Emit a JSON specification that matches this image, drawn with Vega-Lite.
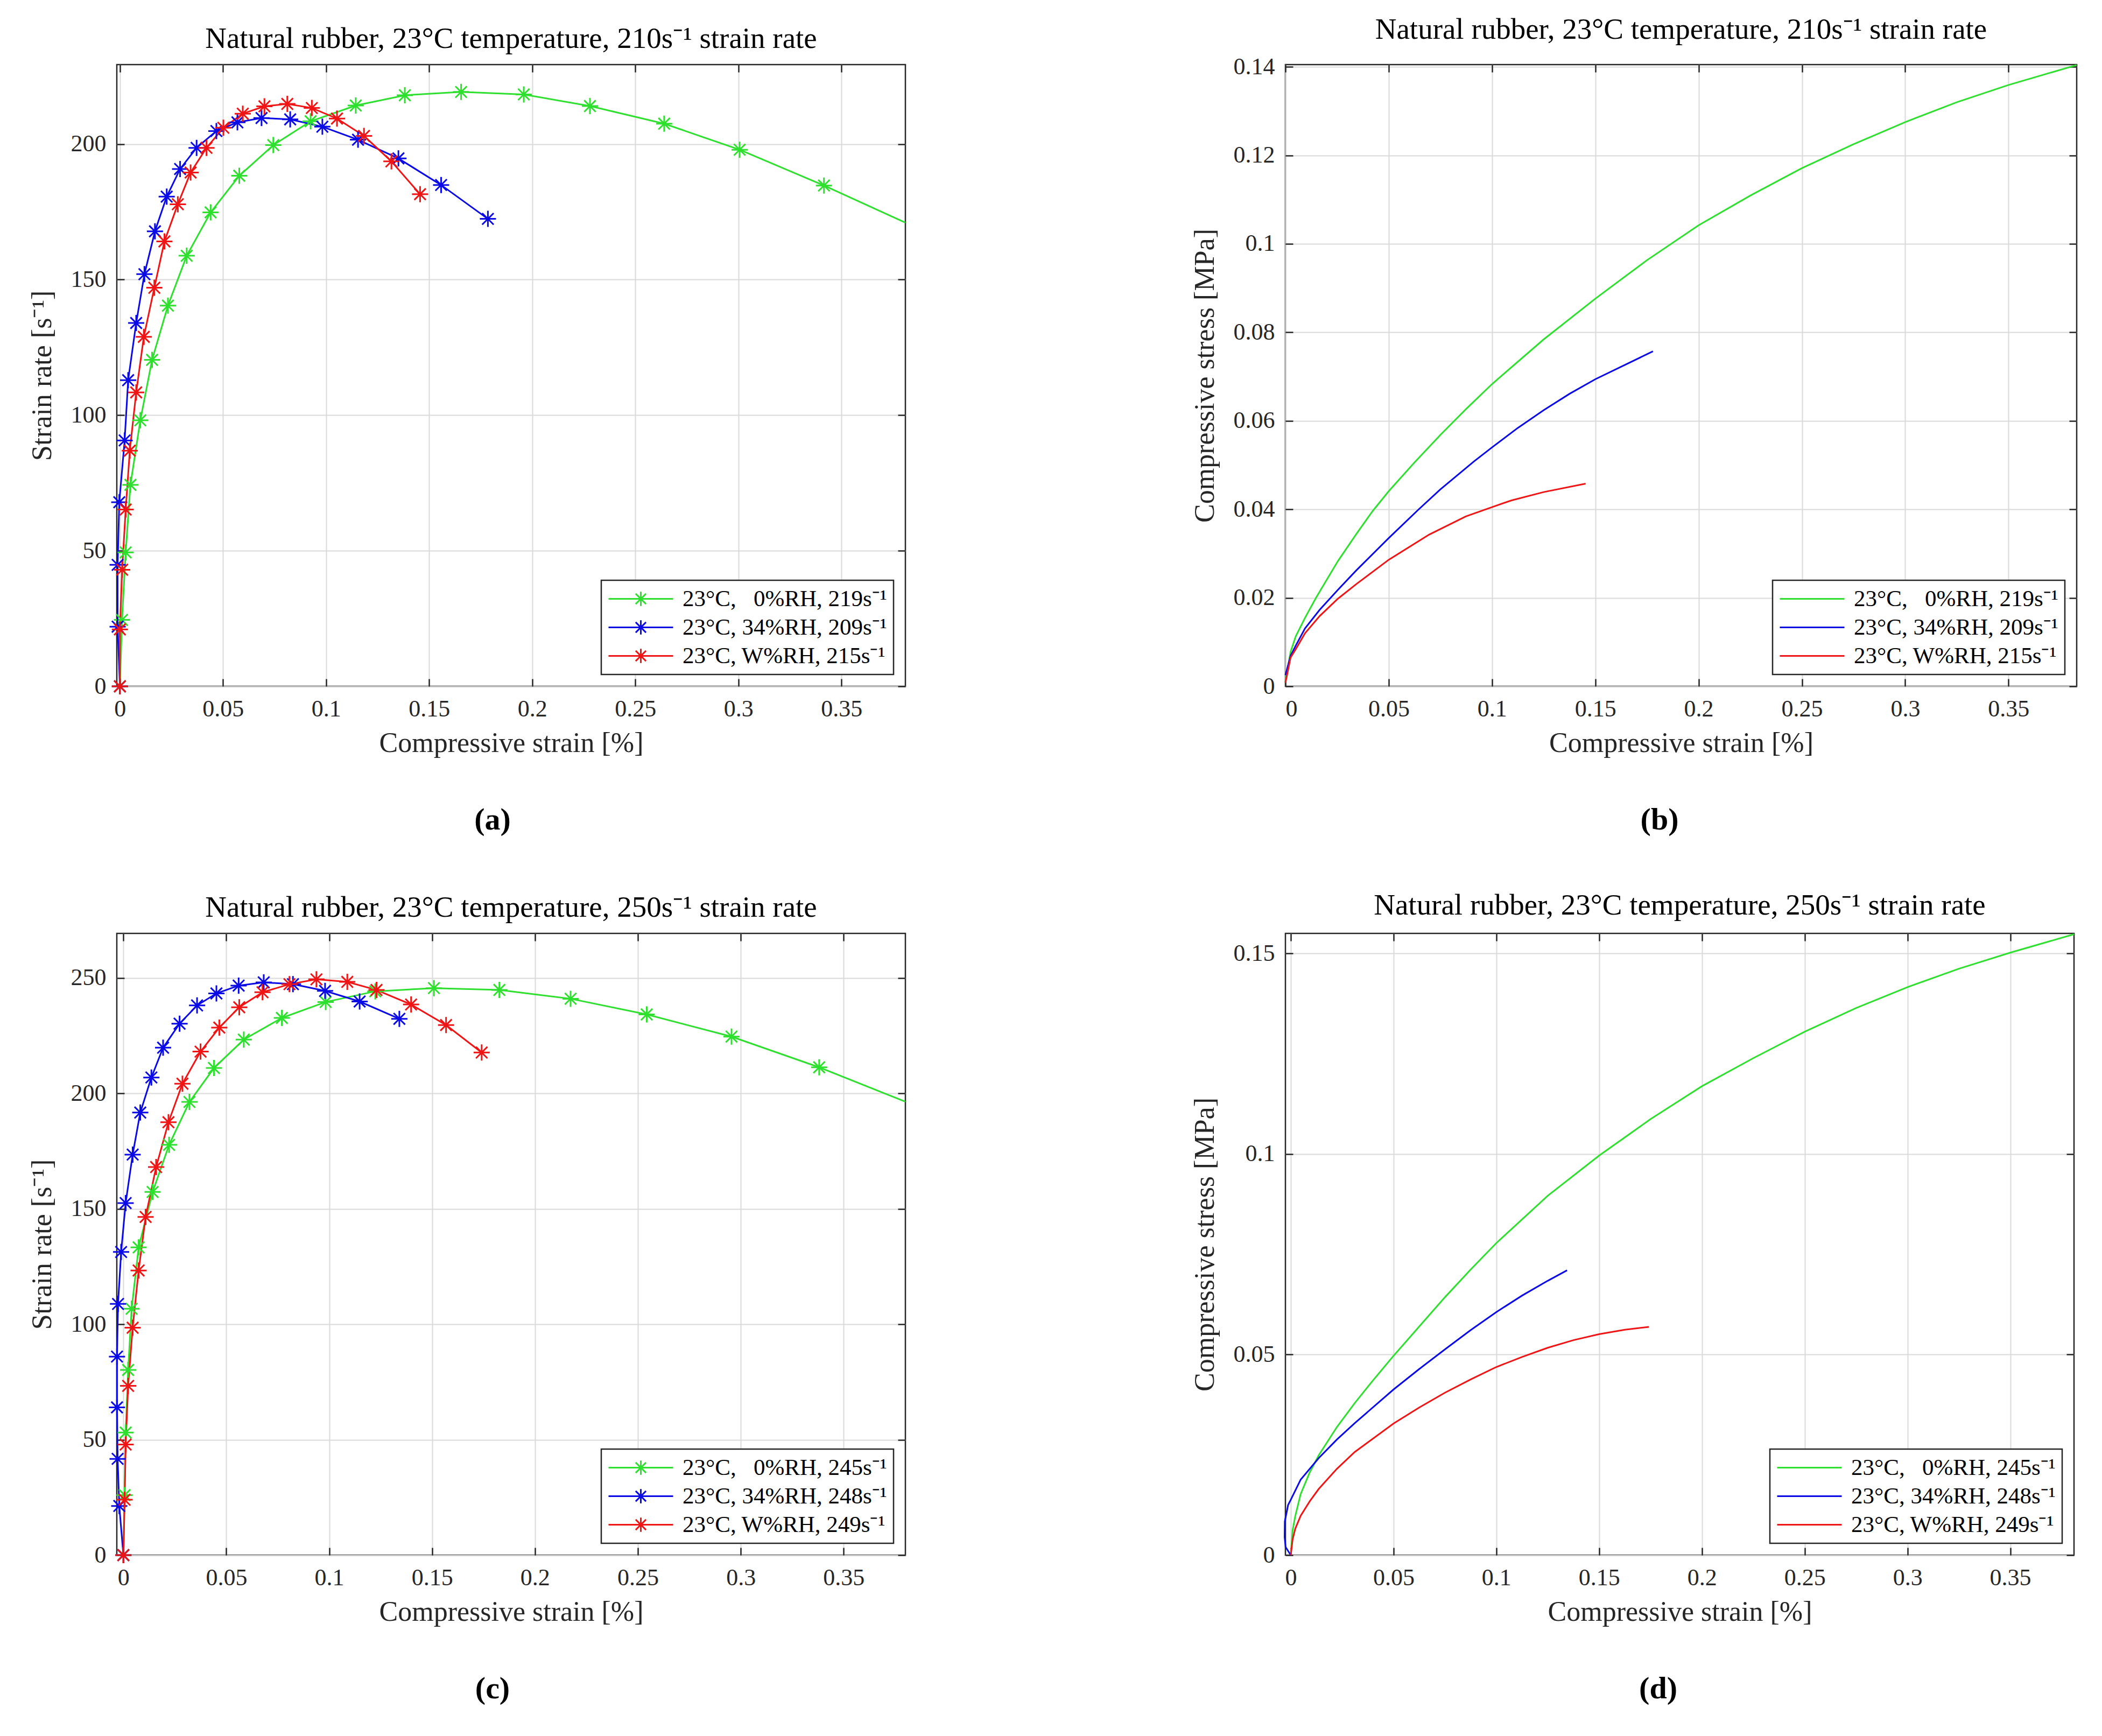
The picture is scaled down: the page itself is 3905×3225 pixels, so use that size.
{
  "$schema": "https://vega.github.io/schema/vega-lite/v6.json",
  "background": "white",
  "padding": {"left": 50, "top": 26, "right": 30, "bottom": 30},
  "datasets": {
    "a": [
      {"x": 0, "y": 0, "s": "23°C, \u20070%RH, 219s\u207b\u00b9"},
      {"x": 0.001, "y": 24.5, "s": "23°C, \u20070%RH, 219s\u207b\u00b9"},
      {"x": 0.0028, "y": 49.4, "s": "23°C, \u20070%RH, 219s\u207b\u00b9"},
      {"x": 0.0051, "y": 74.3, "s": "23°C, \u20070%RH, 219s\u207b\u00b9"},
      {"x": 0.0099, "y": 98.1, "s": "23°C, \u20070%RH, 219s\u207b\u00b9"},
      {"x": 0.0156, "y": 120.4, "s": "23°C, \u20070%RH, 219s\u207b\u00b9"},
      {"x": 0.0233, "y": 140.4, "s": "23°C, \u20070%RH, 219s\u207b\u00b9"},
      {"x": 0.0324, "y": 158.8, "s": "23°C, \u20070%RH, 219s\u207b\u00b9"},
      {"x": 0.044, "y": 174.8, "s": "23°C, \u20070%RH, 219s\u207b\u00b9"},
      {"x": 0.0579, "y": 188.3, "s": "23°C, \u20070%RH, 219s\u207b\u00b9"},
      {"x": 0.0744, "y": 199.6, "s": "23°C, \u20070%RH, 219s\u207b\u00b9"},
      {"x": 0.0925, "y": 208.4, "s": "23°C, \u20070%RH, 219s\u207b\u00b9"},
      {"x": 0.1144, "y": 214.2, "s": "23°C, \u20070%RH, 219s\u207b\u00b9"},
      {"x": 0.1382, "y": 218, "s": "23°C, \u20070%RH, 219s\u207b\u00b9"},
      {"x": 0.1655, "y": 219.2, "s": "23°C, \u20070%RH, 219s\u207b\u00b9"},
      {"x": 0.1959, "y": 218.3, "s": "23°C, \u20070%RH, 219s\u207b\u00b9"},
      {"x": 0.228, "y": 214, "s": "23°C, \u20070%RH, 219s\u207b\u00b9"},
      {"x": 0.264, "y": 207.5, "s": "23°C, \u20070%RH, 219s\u207b\u00b9"},
      {"x": 0.3006, "y": 197.9, "s": "23°C, \u20070%RH, 219s\u207b\u00b9"},
      {"x": 0.3415, "y": 184.7, "s": "23°C, \u20070%RH, 219s\u207b\u00b9"},
      {"x": 0.381, "y": 171, "s": "23°C, \u20070%RH, 219s\u207b\u00b9"},
      {"x": 0, "y": 0, "s": "23°C, 34%RH, 209s\u207b\u00b9"},
      {"x": -0.0011, "y": 22, "s": "23°C, 34%RH, 209s\u207b\u00b9"},
      {"x": -0.0011, "y": 44.8, "s": "23°C, 34%RH, 209s\u207b\u00b9"},
      {"x": -0.0003, "y": 67.9, "s": "23°C, 34%RH, 209s\u207b\u00b9"},
      {"x": 0.0023, "y": 90.7, "s": "23°C, 34%RH, 209s\u207b\u00b9"},
      {"x": 0.004, "y": 112.9, "s": "23°C, 34%RH, 209s\u207b\u00b9"},
      {"x": 0.0079, "y": 134, "s": "23°C, 34%RH, 209s\u207b\u00b9"},
      {"x": 0.0119, "y": 152, "s": "23°C, 34%RH, 209s\u207b\u00b9"},
      {"x": 0.017, "y": 167.8, "s": "23°C, 34%RH, 209s\u207b\u00b9"},
      {"x": 0.0227, "y": 180.6, "s": "23°C, 34%RH, 209s\u207b\u00b9"},
      {"x": 0.0292, "y": 190.8, "s": "23°C, 34%RH, 209s\u207b\u00b9"},
      {"x": 0.0372, "y": 198.6, "s": "23°C, 34%RH, 209s\u207b\u00b9"},
      {"x": 0.0468, "y": 204.8, "s": "23°C, 34%RH, 209s\u207b\u00b9"},
      {"x": 0.057, "y": 208, "s": "23°C, 34%RH, 209s\u207b\u00b9"},
      {"x": 0.0687, "y": 209.6, "s": "23°C, 34%RH, 209s\u207b\u00b9"},
      {"x": 0.0826, "y": 209.1, "s": "23°C, 34%RH, 209s\u207b\u00b9"},
      {"x": 0.0982, "y": 206.4, "s": "23°C, 34%RH, 209s\u207b\u00b9"},
      {"x": 0.1155, "y": 201.6, "s": "23°C, 34%RH, 209s\u207b\u00b9"},
      {"x": 0.1351, "y": 194.7, "s": "23°C, 34%RH, 209s\u207b\u00b9"},
      {"x": 0.1558, "y": 184.9, "s": "23°C, 34%RH, 209s\u207b\u00b9"},
      {"x": 0.1785, "y": 172.4, "s": "23°C, 34%RH, 209s\u207b\u00b9"},
      {"x": 0, "y": 0, "s": "23°C, W%RH, 215s\u207b\u00b9"},
      {"x": 0, "y": 21, "s": "23°C, W%RH, 215s\u207b\u00b9"},
      {"x": 0.0011, "y": 43, "s": "23°C, W%RH, 215s\u207b\u00b9"},
      {"x": 0.0028, "y": 65.2, "s": "23°C, W%RH, 215s\u207b\u00b9"},
      {"x": 0.0048, "y": 86.9, "s": "23°C, W%RH, 215s\u207b\u00b9"},
      {"x": 0.0079, "y": 108.4, "s": "23°C, W%RH, 215s\u207b\u00b9"},
      {"x": 0.0116, "y": 128.9, "s": "23°C, W%RH, 215s\u207b\u00b9"},
      {"x": 0.0167, "y": 147, "s": "23°C, W%RH, 215s\u207b\u00b9"},
      {"x": 0.0216, "y": 164.1, "s": "23°C, W%RH, 215s\u207b\u00b9"},
      {"x": 0.0281, "y": 177.8, "s": "23°C, W%RH, 215s\u207b\u00b9"},
      {"x": 0.0343, "y": 189.5, "s": "23°C, W%RH, 215s\u207b\u00b9"},
      {"x": 0.042, "y": 198.6, "s": "23°C, W%RH, 215s\u207b\u00b9"},
      {"x": 0.0502, "y": 206, "s": "23°C, W%RH, 215s\u207b\u00b9"},
      {"x": 0.0596, "y": 211.2, "s": "23°C, W%RH, 215s\u207b\u00b9"},
      {"x": 0.0701, "y": 213.9, "s": "23°C, W%RH, 215s\u207b\u00b9"},
      {"x": 0.0812, "y": 214.8, "s": "23°C, W%RH, 215s\u207b\u00b9"},
      {"x": 0.0931, "y": 213.3, "s": "23°C, W%RH, 215s\u207b\u00b9"},
      {"x": 0.1053, "y": 209.4, "s": "23°C, W%RH, 215s\u207b\u00b9"},
      {"x": 0.1184, "y": 203, "s": "23°C, W%RH, 215s\u207b\u00b9"},
      {"x": 0.1317, "y": 193.6, "s": "23°C, W%RH, 215s\u207b\u00b9"},
      {"x": 0.1456, "y": 181.5, "s": "23°C, W%RH, 215s\u207b\u00b9"}
    ],
    "b": [
      {"x": 0, "y": 0.001, "s": "23°C, \u20070%RH, 219s\u207b\u00b9"},
      {"x": 0.0025, "y": 0.0078, "s": "23°C, \u20070%RH, 219s\u207b\u00b9"},
      {"x": 0.005, "y": 0.0113, "s": "23°C, \u20070%RH, 219s\u207b\u00b9"},
      {"x": 0.0095, "y": 0.0155, "s": "23°C, \u20070%RH, 219s\u207b\u00b9"},
      {"x": 0.0148, "y": 0.02, "s": "23°C, \u20070%RH, 219s\u207b\u00b9"},
      {"x": 0.0254, "y": 0.0283, "s": "23°C, \u20070%RH, 219s\u207b\u00b9"},
      {"x": 0.0343, "y": 0.0344, "s": "23°C, \u20070%RH, 219s\u207b\u00b9"},
      {"x": 0.0422, "y": 0.0396, "s": "23°C, \u20070%RH, 219s\u207b\u00b9"},
      {"x": 0.05, "y": 0.0441, "s": "23°C, \u20070%RH, 219s\u207b\u00b9"},
      {"x": 0.0625, "y": 0.0506, "s": "23°C, \u20070%RH, 219s\u207b\u00b9"},
      {"x": 0.075, "y": 0.0568, "s": "23°C, \u20070%RH, 219s\u207b\u00b9"},
      {"x": 0.0875, "y": 0.0627, "s": "23°C, \u20070%RH, 219s\u207b\u00b9"},
      {"x": 0.1, "y": 0.0683, "s": "23°C, \u20070%RH, 219s\u207b\u00b9"},
      {"x": 0.125, "y": 0.0784, "s": "23°C, \u20070%RH, 219s\u207b\u00b9"},
      {"x": 0.15, "y": 0.0876, "s": "23°C, \u20070%RH, 219s\u207b\u00b9"},
      {"x": 0.175, "y": 0.0963, "s": "23°C, \u20070%RH, 219s\u207b\u00b9"},
      {"x": 0.2, "y": 0.1042, "s": "23°C, \u20070%RH, 219s\u207b\u00b9"},
      {"x": 0.225, "y": 0.1109, "s": "23°C, \u20070%RH, 219s\u207b\u00b9"},
      {"x": 0.25, "y": 0.1171, "s": "23°C, \u20070%RH, 219s\u207b\u00b9"},
      {"x": 0.275, "y": 0.1225, "s": "23°C, \u20070%RH, 219s\u207b\u00b9"},
      {"x": 0.3, "y": 0.1275, "s": "23°C, \u20070%RH, 219s\u207b\u00b9"},
      {"x": 0.325, "y": 0.132, "s": "23°C, \u20070%RH, 219s\u207b\u00b9"},
      {"x": 0.35, "y": 0.1359, "s": "23°C, \u20070%RH, 219s\u207b\u00b9"},
      {"x": 0.383, "y": 0.1404, "s": "23°C, \u20070%RH, 219s\u207b\u00b9"},
      {"x": 0, "y": 0.0025, "s": "23°C, 34%RH, 209s\u207b\u00b9"},
      {"x": 0.0025, "y": 0.0069, "s": "23°C, 34%RH, 209s\u207b\u00b9"},
      {"x": 0.005, "y": 0.0092, "s": "23°C, 34%RH, 209s\u207b\u00b9"},
      {"x": 0.0095, "y": 0.0131, "s": "23°C, 34%RH, 209s\u207b\u00b9"},
      {"x": 0.0166, "y": 0.0173, "s": "23°C, 34%RH, 209s\u207b\u00b9"},
      {"x": 0.0254, "y": 0.0218, "s": "23°C, 34%RH, 209s\u207b\u00b9"},
      {"x": 0.0343, "y": 0.0262, "s": "23°C, 34%RH, 209s\u207b\u00b9"},
      {"x": 0.05, "y": 0.0335, "s": "23°C, 34%RH, 209s\u207b\u00b9"},
      {"x": 0.0643, "y": 0.0399, "s": "23°C, 34%RH, 209s\u207b\u00b9"},
      {"x": 0.075, "y": 0.0445, "s": "23°C, 34%RH, 209s\u207b\u00b9"},
      {"x": 0.0912, "y": 0.0508, "s": "23°C, 34%RH, 209s\u207b\u00b9"},
      {"x": 0.1, "y": 0.054, "s": "23°C, 34%RH, 209s\u207b\u00b9"},
      {"x": 0.1125, "y": 0.0584, "s": "23°C, 34%RH, 209s\u207b\u00b9"},
      {"x": 0.125, "y": 0.0624, "s": "23°C, 34%RH, 209s\u207b\u00b9"},
      {"x": 0.1375, "y": 0.0661, "s": "23°C, 34%RH, 209s\u207b\u00b9"},
      {"x": 0.15, "y": 0.0694, "s": "23°C, 34%RH, 209s\u207b\u00b9"},
      {"x": 0.165, "y": 0.0728, "s": "23°C, 34%RH, 209s\u207b\u00b9"},
      {"x": 0.1779, "y": 0.0757, "s": "23°C, 34%RH, 209s\u207b\u00b9"},
      {"x": 0, "y": 0.0008, "s": "23°C, W%RH, 215s\u207b\u00b9"},
      {"x": 0.0025, "y": 0.0065, "s": "23°C, W%RH, 215s\u207b\u00b9"},
      {"x": 0.005, "y": 0.0084, "s": "23°C, W%RH, 215s\u207b\u00b9"},
      {"x": 0.0095, "y": 0.012, "s": "23°C, W%RH, 215s\u207b\u00b9"},
      {"x": 0.0166, "y": 0.0159, "s": "23°C, W%RH, 215s\u207b\u00b9"},
      {"x": 0.0254, "y": 0.0198, "s": "23°C, W%RH, 215s\u207b\u00b9"},
      {"x": 0.0343, "y": 0.0231, "s": "23°C, W%RH, 215s\u207b\u00b9"},
      {"x": 0.05, "y": 0.0286, "s": "23°C, W%RH, 215s\u207b\u00b9"},
      {"x": 0.0696, "y": 0.0343, "s": "23°C, W%RH, 215s\u207b\u00b9"},
      {"x": 0.0873, "y": 0.0384, "s": "23°C, W%RH, 215s\u207b\u00b9"},
      {"x": 0.1, "y": 0.0405, "s": "23°C, W%RH, 215s\u207b\u00b9"},
      {"x": 0.1093, "y": 0.042, "s": "23°C, W%RH, 215s\u207b\u00b9"},
      {"x": 0.125, "y": 0.0439, "s": "23°C, W%RH, 215s\u207b\u00b9"},
      {"x": 0.1453, "y": 0.0458, "s": "23°C, W%RH, 215s\u207b\u00b9"}
    ],
    "c": [
      {"x": 0, "y": 0, "s": "23°C, \u20070%RH, 245s\u207b\u00b9"},
      {"x": 0.0006, "y": 26, "s": "23°C, \u20070%RH, 245s\u207b\u00b9"},
      {"x": 0.0011, "y": 53.1, "s": "23°C, \u20070%RH, 245s\u207b\u00b9"},
      {"x": 0.0023, "y": 80.2, "s": "23°C, \u20070%RH, 245s\u207b\u00b9"},
      {"x": 0.004, "y": 106.7, "s": "23°C, \u20070%RH, 245s\u207b\u00b9"},
      {"x": 0.0074, "y": 133.3, "s": "23°C, \u20070%RH, 245s\u207b\u00b9"},
      {"x": 0.0142, "y": 157.3, "s": "23°C, \u20070%RH, 245s\u207b\u00b9"},
      {"x": 0.0222, "y": 177.7, "s": "23°C, \u20070%RH, 245s\u207b\u00b9"},
      {"x": 0.0321, "y": 196.3, "s": "23°C, \u20070%RH, 245s\u207b\u00b9"},
      {"x": 0.044, "y": 211, "s": "23°C, \u20070%RH, 245s\u207b\u00b9"},
      {"x": 0.0585, "y": 223.3, "s": "23°C, \u20070%RH, 245s\u207b\u00b9"},
      {"x": 0.077, "y": 232.7, "s": "23°C, \u20070%RH, 245s\u207b\u00b9"},
      {"x": 0.0983, "y": 239.6, "s": "23°C, \u20070%RH, 245s\u207b\u00b9"},
      {"x": 0.1224, "y": 244.2, "s": "23°C, \u20070%RH, 245s\u207b\u00b9"},
      {"x": 0.1509, "y": 245.6, "s": "23°C, \u20070%RH, 245s\u207b\u00b9"},
      {"x": 0.1827, "y": 244.8, "s": "23°C, \u20070%RH, 245s\u207b\u00b9"},
      {"x": 0.2173, "y": 241, "s": "23°C, \u20070%RH, 245s\u207b\u00b9"},
      {"x": 0.2543, "y": 234.2, "s": "23°C, \u20070%RH, 245s\u207b\u00b9"},
      {"x": 0.2955, "y": 224.6, "s": "23°C, \u20070%RH, 245s\u207b\u00b9"},
      {"x": 0.3381, "y": 211.3, "s": "23°C, \u20070%RH, 245s\u207b\u00b9"},
      {"x": 0.38, "y": 196.4, "s": "23°C, \u20070%RH, 245s\u207b\u00b9"},
      {"x": 0, "y": 0, "s": "23°C, 34%RH, 248s\u207b\u00b9"},
      {"x": -0.002, "y": 21.3, "s": "23°C, 34%RH, 248s\u207b\u00b9"},
      {"x": -0.0028, "y": 41.7, "s": "23°C, 34%RH, 248s\u207b\u00b9"},
      {"x": -0.0031, "y": 64, "s": "23°C, 34%RH, 248s\u207b\u00b9"},
      {"x": -0.0031, "y": 86, "s": "23°C, 34%RH, 248s\u207b\u00b9"},
      {"x": -0.0026, "y": 108.8, "s": "23°C, 34%RH, 248s\u207b\u00b9"},
      {"x": -0.0011, "y": 131.3, "s": "23°C, 34%RH, 248s\u207b\u00b9"},
      {"x": 0.0011, "y": 152.5, "s": "23°C, 34%RH, 248s\u207b\u00b9"},
      {"x": 0.0045, "y": 173.5, "s": "23°C, 34%RH, 248s\u207b\u00b9"},
      {"x": 0.0082, "y": 191.7, "s": "23°C, 34%RH, 248s\u207b\u00b9"},
      {"x": 0.0136, "y": 206.9, "s": "23°C, 34%RH, 248s\u207b\u00b9"},
      {"x": 0.0193, "y": 219.8, "s": "23°C, 34%RH, 248s\u207b\u00b9"},
      {"x": 0.0273, "y": 230.2, "s": "23°C, 34%RH, 248s\u207b\u00b9"},
      {"x": 0.0358, "y": 238.1, "s": "23°C, 34%RH, 248s\u207b\u00b9"},
      {"x": 0.0452, "y": 243.3, "s": "23°C, 34%RH, 248s\u207b\u00b9"},
      {"x": 0.056, "y": 246.7, "s": "23°C, 34%RH, 248s\u207b\u00b9"},
      {"x": 0.0682, "y": 248.1, "s": "23°C, 34%RH, 248s\u207b\u00b9"},
      {"x": 0.0824, "y": 247.3, "s": "23°C, 34%RH, 248s\u207b\u00b9"},
      {"x": 0.098, "y": 244.4, "s": "23°C, 34%RH, 248s\u207b\u00b9"},
      {"x": 0.1148, "y": 239.8, "s": "23°C, 34%RH, 248s\u207b\u00b9"},
      {"x": 0.1341, "y": 232.3, "s": "23°C, 34%RH, 248s\u207b\u00b9"},
      {"x": 0, "y": 0, "s": "23°C, W%RH, 249s\u207b\u00b9"},
      {"x": 0.0006, "y": 24, "s": "23°C, W%RH, 249s\u207b\u00b9"},
      {"x": 0.0011, "y": 47.9, "s": "23°C, W%RH, 249s\u207b\u00b9"},
      {"x": 0.0023, "y": 73.3, "s": "23°C, W%RH, 249s\u207b\u00b9"},
      {"x": 0.0045, "y": 98.5, "s": "23°C, W%RH, 249s\u207b\u00b9"},
      {"x": 0.0074, "y": 123.3, "s": "23°C, W%RH, 249s\u207b\u00b9"},
      {"x": 0.0108, "y": 146.5, "s": "23°C, W%RH, 249s\u207b\u00b9"},
      {"x": 0.0159, "y": 168.1, "s": "23°C, W%RH, 249s\u207b\u00b9"},
      {"x": 0.0219, "y": 187.5, "s": "23°C, W%RH, 249s\u207b\u00b9"},
      {"x": 0.0287, "y": 204.2, "s": "23°C, W%RH, 249s\u207b\u00b9"},
      {"x": 0.0375, "y": 218.1, "s": "23°C, W%RH, 249s\u207b\u00b9"},
      {"x": 0.0466, "y": 228.5, "s": "23°C, W%RH, 249s\u207b\u00b9"},
      {"x": 0.0563, "y": 237.3, "s": "23°C, W%RH, 249s\u207b\u00b9"},
      {"x": 0.0676, "y": 243.8, "s": "23°C, W%RH, 249s\u207b\u00b9"},
      {"x": 0.0807, "y": 247.3, "s": "23°C, W%RH, 249s\u207b\u00b9"},
      {"x": 0.0938, "y": 249.4, "s": "23°C, W%RH, 249s\u207b\u00b9"},
      {"x": 0.1088, "y": 248.3, "s": "23°C, W%RH, 249s\u207b\u00b9"},
      {"x": 0.123, "y": 244.8, "s": "23°C, W%RH, 249s\u207b\u00b9"},
      {"x": 0.1398, "y": 238.5, "s": "23°C, W%RH, 249s\u207b\u00b9"},
      {"x": 0.1568, "y": 229.6, "s": "23°C, W%RH, 249s\u207b\u00b9"},
      {"x": 0.1741, "y": 217.7, "s": "23°C, W%RH, 249s\u207b\u00b9"}
    ],
    "d": [
      {"x": 0, "y": 0, "s": "23°C, \u20070%RH, 245s\u207b\u00b9"},
      {"x": 0.0009, "y": 0.0062, "s": "23°C, \u20070%RH, 245s\u207b\u00b9"},
      {"x": 0.0022, "y": 0.0098, "s": "23°C, \u20070%RH, 245s\u207b\u00b9"},
      {"x": 0.0048, "y": 0.0152, "s": "23°C, \u20070%RH, 245s\u207b\u00b9"},
      {"x": 0.0092, "y": 0.0206, "s": "23°C, \u20070%RH, 245s\u207b\u00b9"},
      {"x": 0.0136, "y": 0.0249, "s": "23°C, \u20070%RH, 245s\u207b\u00b9"},
      {"x": 0.0224, "y": 0.0319, "s": "23°C, \u20070%RH, 245s\u207b\u00b9"},
      {"x": 0.0311, "y": 0.0379, "s": "23°C, \u20070%RH, 245s\u207b\u00b9"},
      {"x": 0.0399, "y": 0.0435, "s": "23°C, \u20070%RH, 245s\u207b\u00b9"},
      {"x": 0.05, "y": 0.0497, "s": "23°C, \u20070%RH, 245s\u207b\u00b9"},
      {"x": 0.0625, "y": 0.057, "s": "23°C, \u20070%RH, 245s\u207b\u00b9"},
      {"x": 0.075, "y": 0.0643, "s": "23°C, \u20070%RH, 245s\u207b\u00b9"},
      {"x": 0.0875, "y": 0.0712, "s": "23°C, \u20070%RH, 245s\u207b\u00b9"},
      {"x": 0.1, "y": 0.0778, "s": "23°C, \u20070%RH, 245s\u207b\u00b9"},
      {"x": 0.125, "y": 0.0896, "s": "23°C, \u20070%RH, 245s\u207b\u00b9"},
      {"x": 0.15, "y": 0.0996, "s": "23°C, \u20070%RH, 245s\u207b\u00b9"},
      {"x": 0.175, "y": 0.1087, "s": "23°C, \u20070%RH, 245s\u207b\u00b9"},
      {"x": 0.2, "y": 0.1169, "s": "23°C, \u20070%RH, 245s\u207b\u00b9"},
      {"x": 0.225, "y": 0.1239, "s": "23°C, \u20070%RH, 245s\u207b\u00b9"},
      {"x": 0.25, "y": 0.1305, "s": "23°C, \u20070%RH, 245s\u207b\u00b9"},
      {"x": 0.275, "y": 0.1364, "s": "23°C, \u20070%RH, 245s\u207b\u00b9"},
      {"x": 0.3, "y": 0.1416, "s": "23°C, \u20070%RH, 245s\u207b\u00b9"},
      {"x": 0.325, "y": 0.1462, "s": "23°C, \u20070%RH, 245s\u207b\u00b9"},
      {"x": 0.35, "y": 0.1502, "s": "23°C, \u20070%RH, 245s\u207b\u00b9"},
      {"x": 0.381, "y": 0.1548, "s": "23°C, \u20070%RH, 245s\u207b\u00b9"},
      {"x": 0, "y": 0, "s": "23°C, 34%RH, 248s\u207b\u00b9"},
      {"x": -0.0025, "y": 0.002, "s": "23°C, 34%RH, 248s\u207b\u00b9"},
      {"x": -0.003, "y": 0.0045, "s": "23°C, 34%RH, 248s\u207b\u00b9"},
      {"x": -0.0029, "y": 0.0084, "s": "23°C, 34%RH, 248s\u207b\u00b9"},
      {"x": -0.0013, "y": 0.0125, "s": "23°C, 34%RH, 248s\u207b\u00b9"},
      {"x": 0, "y": 0.0138, "s": "23°C, 34%RH, 248s\u207b\u00b9"},
      {"x": 0.0048, "y": 0.0188, "s": "23°C, 34%RH, 248s\u207b\u00b9"},
      {"x": 0.0136, "y": 0.0242, "s": "23°C, 34%RH, 248s\u207b\u00b9"},
      {"x": 0.0224, "y": 0.0288, "s": "23°C, 34%RH, 248s\u207b\u00b9"},
      {"x": 0.0311, "y": 0.0329, "s": "23°C, 34%RH, 248s\u207b\u00b9"},
      {"x": 0.05, "y": 0.0413, "s": "23°C, 34%RH, 248s\u207b\u00b9"},
      {"x": 0.0625, "y": 0.0464, "s": "23°C, 34%RH, 248s\u207b\u00b9"},
      {"x": 0.075, "y": 0.0513, "s": "23°C, 34%RH, 248s\u207b\u00b9"},
      {"x": 0.0875, "y": 0.0561, "s": "23°C, 34%RH, 248s\u207b\u00b9"},
      {"x": 0.1, "y": 0.0606, "s": "23°C, 34%RH, 248s\u207b\u00b9"},
      {"x": 0.1125, "y": 0.0647, "s": "23°C, 34%RH, 248s\u207b\u00b9"},
      {"x": 0.125, "y": 0.0684, "s": "23°C, 34%RH, 248s\u207b\u00b9"},
      {"x": 0.1344, "y": 0.071, "s": "23°C, 34%RH, 248s\u207b\u00b9"},
      {"x": 0, "y": 0, "s": "23°C, W%RH, 249s\u207b\u00b9"},
      {"x": 0.0009, "y": 0.0039, "s": "23°C, W%RH, 249s\u207b\u00b9"},
      {"x": 0.0022, "y": 0.0066, "s": "23°C, W%RH, 249s\u207b\u00b9"},
      {"x": 0.0048, "y": 0.0098, "s": "23°C, W%RH, 249s\u207b\u00b9"},
      {"x": 0.0092, "y": 0.0134, "s": "23°C, W%RH, 249s\u207b\u00b9"},
      {"x": 0.0136, "y": 0.0165, "s": "23°C, W%RH, 249s\u207b\u00b9"},
      {"x": 0.0224, "y": 0.0215, "s": "23°C, W%RH, 249s\u207b\u00b9"},
      {"x": 0.0311, "y": 0.0257, "s": "23°C, W%RH, 249s\u207b\u00b9"},
      {"x": 0.05, "y": 0.0328, "s": "23°C, W%RH, 249s\u207b\u00b9"},
      {"x": 0.0625, "y": 0.0368, "s": "23°C, W%RH, 249s\u207b\u00b9"},
      {"x": 0.075, "y": 0.0405, "s": "23°C, W%RH, 249s\u207b\u00b9"},
      {"x": 0.0875, "y": 0.0438, "s": "23°C, W%RH, 249s\u207b\u00b9"},
      {"x": 0.1, "y": 0.0469, "s": "23°C, W%RH, 249s\u207b\u00b9"},
      {"x": 0.1125, "y": 0.0494, "s": "23°C, W%RH, 249s\u207b\u00b9"},
      {"x": 0.125, "y": 0.0517, "s": "23°C, W%RH, 249s\u207b\u00b9"},
      {"x": 0.1375, "y": 0.0536, "s": "23°C, W%RH, 249s\u207b\u00b9"},
      {"x": 0.15, "y": 0.0551, "s": "23°C, W%RH, 249s\u207b\u00b9"},
      {"x": 0.1625, "y": 0.0562, "s": "23°C, W%RH, 249s\u207b\u00b9"},
      {"x": 0.1742, "y": 0.0569, "s": "23°C, W%RH, 249s\u207b\u00b9"}
    ]
  },
  "columns": 2,
  "spacing": {"column": 520, "row": 100},
  "concat": [
    {
      "vconcat": [
        {
          "width": 1465,
          "height": 1155,
          "title": {"text": "Natural rubber, 23°C temperature, 210s\u207b\u00b9 strain rate", "frame": "group"},
          "data": {"name": "a"},
          "layer": [
            {
              "mark": {"type": "line", "strokeWidth": 3},
              "encoding": {
                "x": {"field": "x", "type": "quantitative", "scale": {"domain": [-0.0015, 0.381], "nice": false, "zero": false}, "axis": {"values": [0, 0.05, 0.1, 0.15, 0.2, 0.25, 0.3, 0.35], "format": ".2~f", "title": "Compressive strain [%]"}},
                "y": {"field": "y", "type": "quantitative", "scale": {"domain": [0, 229.3], "nice": false}, "axis": {"values": [0, 50, 100, 150, 200], "title": "Strain rate [s\u207b\u00b9]"}},
                "color": {"field": "s", "type": "nominal", "scale": {"domain": ["23°C, \u20070%RH, 219s\u207b\u00b9", "23°C, 34%RH, 209s\u207b\u00b9", "23°C, W%RH, 215s\u207b\u00b9"], "range": ["#2ee02e", "#0a0ae6", "#f01414"]}, "legend": {"title": null, "symbolType": "M-1,0L1,0M0,-0.22L0,0.22M-0.16,-0.16L0.16,0.16M-0.16,0.16L0.16,-0.16"}},
                "order": {"value": null}
              }
            },
            {
              "transform": [{"filter": "datum.x < 0.375"}],
              "mark": {"type": "point", "shape": "M0,-1L0,1M-1,0L1,0M-0.71,-0.71L0.71,0.71M-0.71,0.71L0.71,-0.71", "filled": false, "size": 900, "strokeWidth": 3, "opacity": 1},
              "encoding": {
                "x": {"field": "x", "type": "quantitative", "axis": {"orient": "top", "values": [0, 0.05, 0.1, 0.15, 0.2, 0.25, 0.3, 0.35], "labels": false, "title": null, "grid": false}},
                "y": {"field": "y", "type": "quantitative", "axis": {"orient": "right", "values": [0, 50, 100, 150, 200], "labels": false, "title": null, "grid": false}},
                "color": {"field": "s", "type": "nominal", "legend": {"title": null, "symbolType": "M-1,0L1,0M0,-0.22L0,0.22M-0.16,-0.16L0.16,0.16M-0.16,0.16L0.16,-0.16"}}
              }
            }
          ],
          "resolve": {"axis": {"x": "independent", "y": "independent"}}
        }
      ],
      "title": {"text": "(a)", "orient": "bottom", "anchor": "middle", "frame": "bounds", "dx": 45, "fontWeight": "bold", "fontSize": 58, "offset": 88},
      "resolve": {"scale": {"color": "independent"}, "legend": {"color": "independent"}}
    },
    {
      "vconcat": [
        {
          "width": 1470,
          "height": 1155,
          "title": {"text": "Natural rubber, 23°C temperature, 210s\u207b\u00b9 strain rate", "frame": "group"},
          "data": {"name": "b"},
          "layer": [
            {
              "mark": {"type": "line", "strokeWidth": 3},
              "encoding": {
                "x": {"field": "x", "type": "quantitative", "scale": {"domain": [0, 0.383], "nice": false, "zero": false}, "axis": {"values": [0, 0.05, 0.1, 0.15, 0.2, 0.25, 0.3, 0.35], "format": ".2~f", "title": "Compressive strain [%]"}},
                "y": {"field": "y", "type": "quantitative", "scale": {"domain": [0, 0.1405], "nice": false}, "axis": {"values": [0, 0.02, 0.04, 0.06, 0.08, 0.1, 0.12, 0.14], "format": ".2~f", "title": "Compressive stress [MPa]"}},
                "color": {"field": "s", "type": "nominal", "scale": {"domain": ["23°C, \u20070%RH, 219s\u207b\u00b9", "23°C, 34%RH, 209s\u207b\u00b9", "23°C, W%RH, 215s\u207b\u00b9"], "range": ["#2ee02e", "#0a0ae6", "#f01414"]}, "legend": {"title": null, "symbolType": "M-1,0L1,0"}},
                "order": {"value": null}
              }
            },
            {
              "mark": {"type": "point", "opacity": 0},
              "encoding": {
                "x": {"field": "x", "type": "quantitative", "axis": {"orient": "top", "values": [0, 0.05, 0.1, 0.15, 0.2, 0.25, 0.3, 0.35], "labels": false, "title": null, "grid": false}},
                "y": {"field": "y", "type": "quantitative", "axis": {"orient": "right", "values": [0, 0.02, 0.04, 0.06, 0.08, 0.1, 0.12, 0.14], "labels": false, "title": null, "grid": false}}
              }
            }
          ],
          "resolve": {"axis": {"x": "independent", "y": "independent"}}
        }
      ],
      "title": {"text": "(b)", "orient": "bottom", "anchor": "middle", "frame": "bounds", "dx": 45, "fontWeight": "bold", "fontSize": 58, "offset": 88},
      "resolve": {"scale": {"color": "independent"}, "legend": {"color": "independent"}}
    },
    {
      "vconcat": [
        {
          "width": 1465,
          "height": 1155,
          "title": {"text": "Natural rubber, 23°C temperature, 250s\u207b\u00b9 strain rate", "frame": "group"},
          "data": {"name": "c"},
          "layer": [
            {
              "mark": {"type": "line", "strokeWidth": 3},
              "encoding": {
                "x": {"field": "x", "type": "quantitative", "scale": {"domain": [-0.0032, 0.38], "nice": false, "zero": false}, "axis": {"values": [0, 0.05, 0.1, 0.15, 0.2, 0.25, 0.3, 0.35], "format": ".2~f", "title": "Compressive strain [%]"}},
                "y": {"field": "y", "type": "quantitative", "scale": {"domain": [0, 269.3], "nice": false}, "axis": {"values": [0, 50, 100, 150, 200, 250], "title": "Strain rate [s\u207b\u00b9]"}},
                "color": {"field": "s", "type": "nominal", "scale": {"domain": ["23°C, \u20070%RH, 245s\u207b\u00b9", "23°C, 34%RH, 248s\u207b\u00b9", "23°C, W%RH, 249s\u207b\u00b9"], "range": ["#2ee02e", "#0a0ae6", "#f01414"]}, "legend": {"title": null, "symbolType": "M-1,0L1,0M0,-0.22L0,0.22M-0.16,-0.16L0.16,0.16M-0.16,0.16L0.16,-0.16"}},
                "order": {"value": null}
              }
            },
            {
              "transform": [{"filter": "datum.x < 0.375"}],
              "mark": {"type": "point", "shape": "M0,-1L0,1M-1,0L1,0M-0.71,-0.71L0.71,0.71M-0.71,0.71L0.71,-0.71", "filled": false, "size": 900, "strokeWidth": 3, "opacity": 1},
              "encoding": {
                "x": {"field": "x", "type": "quantitative", "axis": {"orient": "top", "values": [0, 0.05, 0.1, 0.15, 0.2, 0.25, 0.3, 0.35], "labels": false, "title": null, "grid": false}},
                "y": {"field": "y", "type": "quantitative", "axis": {"orient": "right", "values": [0, 50, 100, 150, 200, 250], "labels": false, "title": null, "grid": false}},
                "color": {"field": "s", "type": "nominal", "legend": {"title": null, "symbolType": "M-1,0L1,0M0,-0.22L0,0.22M-0.16,-0.16L0.16,0.16M-0.16,0.16L0.16,-0.16"}}
              }
            }
          ],
          "resolve": {"axis": {"x": "independent", "y": "independent"}}
        }
      ],
      "title": {"text": "(c)", "orient": "bottom", "anchor": "middle", "frame": "bounds", "dx": 45, "fontWeight": "bold", "fontSize": 58, "offset": 88},
      "resolve": {"scale": {"color": "independent"}, "legend": {"color": "independent"}}
    },
    {
      "vconcat": [
        {
          "width": 1465,
          "height": 1155,
          "title": {"text": "Natural rubber, 23°C temperature, 250s\u207b\u00b9 strain rate", "frame": "group"},
          "data": {"name": "d"},
          "layer": [
            {
              "mark": {"type": "line", "strokeWidth": 3},
              "encoding": {
                "x": {"field": "x", "type": "quantitative", "scale": {"domain": [-0.0026, 0.381], "nice": false, "zero": false}, "axis": {"values": [0, 0.05, 0.1, 0.15, 0.2, 0.25, 0.3, 0.35], "format": ".2~f", "title": "Compressive strain [%]"}},
                "y": {"field": "y", "type": "quantitative", "scale": {"domain": [0, 0.155], "nice": false}, "axis": {"values": [0, 0.05, 0.1, 0.15], "format": ".2~f", "title": "Compressive stress [MPa]"}},
                "color": {"field": "s", "type": "nominal", "scale": {"domain": ["23°C, \u20070%RH, 245s\u207b\u00b9", "23°C, 34%RH, 248s\u207b\u00b9", "23°C, W%RH, 249s\u207b\u00b9"], "range": ["#2ee02e", "#0a0ae6", "#f01414"]}, "legend": {"title": null, "symbolType": "M-1,0L1,0"}},
                "order": {"value": null}
              }
            },
            {
              "mark": {"type": "point", "opacity": 0},
              "encoding": {
                "x": {"field": "x", "type": "quantitative", "axis": {"orient": "top", "values": [0, 0.05, 0.1, 0.15, 0.2, 0.25, 0.3, 0.35], "labels": false, "title": null, "grid": false}},
                "y": {"field": "y", "type": "quantitative", "axis": {"orient": "right", "values": [0, 0.05, 0.1, 0.15], "labels": false, "title": null, "grid": false}}
              }
            }
          ],
          "resolve": {"axis": {"x": "independent", "y": "independent"}}
        }
      ],
      "title": {"text": "(d)", "orient": "bottom", "anchor": "middle", "frame": "bounds", "dx": 45, "fontWeight": "bold", "fontSize": 58, "offset": 88},
      "resolve": {"scale": {"color": "independent"}, "legend": {"color": "independent"}}
    }
  ],
  "resolve": {"scale": {"color": "independent"}, "legend": {"color": "independent"}},
  "config": {
    "font": "Liberation Serif",
    "view": {"stroke": "#262626", "strokeWidth": 2.5},
    "axis": {
      "labelFont": "Liberation Serif",
      "labelFontSize": 44,
      "labelColor": "#262626",
      "titleFont": "Liberation Serif",
      "titleFontSize": 52,
      "titleFontWeight": "normal",
      "titleColor": "#262626",
      "gridColor": "#dadada",
      "gridWidth": 2,
      "domain": false,
      "tickColor": "#262626",
      "tickWidth": 2.5,
      "tickSize": -14,
      "labelPadding": 34
    },
    "axisX": {"titlePadding": 16},
    "axisY": {"titlePadding": 26},
    "title": {"font": "Liberation Serif", "fontSize": 55, "fontWeight": "normal", "color": "#000000", "offset": 18},
    "legend": {
      "orient": "bottom-right",
      "offset": 22,
      "fillColor": "#ffffff",
      "strokeColor": "#262626",
      "strokeWidth": 2.5,
      "padding": 12,
      "labelFont": "Liberation Serif",
      "labelFontSize": 43,
      "labelColor": "#000000",
      "labelLimit": 0,
      "labelOffset": 16,
      "rowPadding": 8,
      "clipHeight": 45,
      "symbolSize": 14400,
      "symbolStrokeWidth": 3
    }
  }
}
